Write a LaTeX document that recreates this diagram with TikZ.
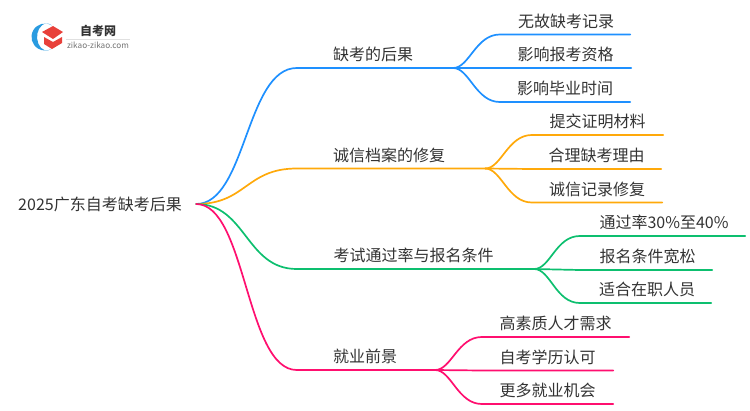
\documentclass[tikz,border=0pt]{standalone}
\usepackage{fontspec}
\setmainfont{Noto Sans CJK SC}
\definecolor{linkblue}{HTML}{1E90FF}
\definecolor{linkorange}{HTML}{FFA90A}
\definecolor{linkgreen}{HTML}{0DBF6F}
\definecolor{linkpink}{HTML}{FF0F6F}
\definecolor{logored}{HTML}{E8403A}
\definecolor{logoblue}{HTML}{2A9BE0}
\definecolor{inktext}{HTML}{333333}
\tikzset{
  label/.style={inner sep=0pt, anchor=south, minimum height=26pt, text=inktext, font=\fontsize{16}{16}\selectfont},
  nudge/.style={execute at begin node=\kern#1},
  link/.style={line width=1.7pt, line cap=round},
}
\begin{document}
\begin{tikzpicture}[x=1pt,y=-1pt]
  \useasboundingbox (0,0) rectangle (750,410);
  % logo
  \fill[logoblue] (51.75,25.3) arc (-60:-300:13.5) arc (-300:-60:9.8 and 13.5) -- cycle;
  \fill[logored] (42,32) -- (53,26) -- (63,32) -- (53,39) -- cycle;
  \fill[logored] (44,37) -- (53,42) -- (62,37) -- (62,43) -- (52,49) -- (44,44) -- cycle;
  \node (logoname) at (98,31) [inner sep=0pt, text=inktext, font=\fontsize{12}{12}\selectfont\bfseries] {自考网};
  \node (logosite) at (98,45) [inner sep=0pt, text=black!55, font=\fontsize{8.2}{8}\selectfont] {zikao-zikao.com};
  \draw[black!12, line width=.6pt] (66,39) -- (130,39);
  % root
  \node (root) at (100,204) [inner sep=0pt, minimum width=192pt, text=inktext, font=\fontsize{16}{16}\selectfont] {2025广东自考缺考后果};
  % first level
  \node (b1) at (375,68) [label, nudge=-4pt, minimum width=156pt] {缺考的后果};
  \node (b2) at (391,168.5) [label, nudge=-4pt, minimum width=188pt] {诚信档案的修复};
  \node (b3) at (415.5,269) [label, nudge=-4pt, minimum width=237pt] {考试通过率与报名条件};
  \node (b4) at (366,370) [label, nudge=-2pt, minimum width=138pt] {就业前景};
  % second level
  \node (l11) at (565,34.5) [label, nudge=2pt, minimum width=130pt] {无故缺考记录};
  \node (l12) at (565.5,68) [label, minimum width=131pt] {影响报考资格};
  \node (l13) at (565,102) [label, minimum width=130pt] {影响毕业时间};
  \node (l21) at (597.5,135) [label, minimum width=131pt] {提交证明材料};
  \node (l22) at (596.5,169) [label, minimum width=129pt] {合理缺考理由};
  \node (l23) at (597,202.5) [label, minimum width=130pt] {诚信记录修复};
  \node (l31) at (662.5,236) [label, nudge=3pt, minimum width=165pt] {通过率30\%至40\%};
  \node (l32) at (646,270) [label, nudge=3pt, minimum width=132pt] {报名条件宽松};
  \node (l33) at (645.5,303) [label, nudge=3pt, minimum width=131pt] {适合在职人员};
  \node (l41) at (555.5,337) [label, minimum width=147pt] {高素质人才需求};
  \node (l42) at (547.5,370.5) [label, minimum width=131pt] {自考学历认可};
  \node (l43) at (547.5,404) [label, minimum width=131pt] {更多就业机会};
  \begin{scope}[link, linkblue]
    \draw (root.east) .. controls +(50,0) and +(-51,0) .. (b1.south west) -- (b1.south east);
    \draw (b1.south east) .. controls +(16,0) and +(-24,0) .. (l11.south west) -- (l11.south east);
    \draw (b1.south east) -- (l12.south west) -- (l12.south east);
    \draw (b1.south east) .. controls +(16,0) and +(-24,0) .. (l13.south west) -- (l13.south east);
  \end{scope}
  \begin{scope}[link, linkorange]
    \draw (root.east) .. controls +(50,0) and +(-51,0) .. (b2.south west) -- (b2.south east);
    \draw (b2.south east) .. controls +(16,0) and +(-24,0) .. (l21.south west) -- (l21.south east);
    \draw (b2.south east) -- (l22.south west) -- (l22.south east);
    \draw (b2.south east) .. controls +(16,0) and +(-24,0) .. (l23.south west) -- (l23.south east);
  \end{scope}
  \begin{scope}[link, linkgreen]
    \draw (root.east) .. controls +(50,0) and +(-51,0) .. (b3.south west) -- (b3.south east);
    \draw (b3.south east) .. controls +(16,0) and +(-24,0) .. (l31.south west) -- (l31.south east);
    \draw (b3.south east) -- (l32.south west) -- (l32.south east);
    \draw (b3.south east) .. controls +(16,0) and +(-24,0) .. (l33.south west) -- (l33.south east);
  \end{scope}
  \begin{scope}[link, linkpink]
    \draw (root.east) .. controls +(50,0) and +(-51,0) .. (b4.south west) -- (b4.south east);
    \draw (b4.south east) .. controls +(16,0) and +(-24,0) .. (l41.south west) -- (l41.south east);
    \draw (b4.south east) -- (l42.south west) -- (l42.south east);
    \draw (b4.south east) .. controls +(16,0) and +(-24,0) .. (l43.south west) -- (l43.south east);
  \end{scope}
\end{tikzpicture}
\end{document}
